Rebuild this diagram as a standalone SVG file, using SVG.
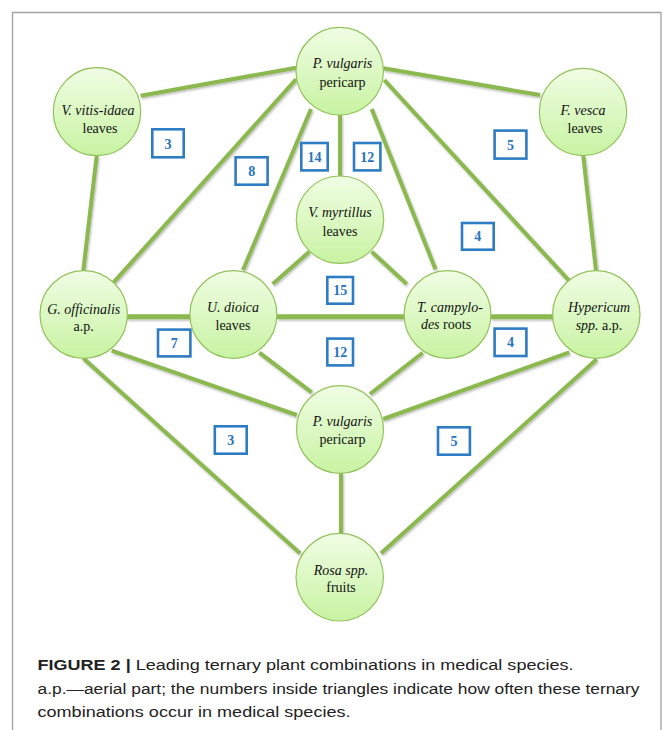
<svg xmlns="http://www.w3.org/2000/svg" width="663" height="730" viewBox="0 0 663 730">
<defs>
<linearGradient id="ng" x1="0" y1="0" x2="0" y2="1">
<stop offset="0" stop-color="#f0fde4"/>
<stop offset="1" stop-color="#c8f3a2"/>
</linearGradient>
<filter id="sh" x="-10%" y="-10%" width="120%" height="120%">
<feDropShadow dx="1" dy="1.5" stdDeviation="1" flood-color="#000" flood-opacity="0.28"/>
</filter>
</defs>
<style>
.node ellipse{fill:url(#ng);stroke:#93c25c;stroke-width:1.2}
.lbl{font-family:"Liberation Serif",serif;font-size:14px;fill:#111;text-anchor:middle}
.it{font-style:italic}
#edges line{stroke:#8bb84f;stroke-width:4;stroke-linecap:butt}
#edges line.h{stroke-width:5}
.box rect{fill:#fff;stroke:#2e7cc3;stroke-width:2.6}
.box text{font-family:"Liberation Serif",serif;font-size:14px;font-weight:bold;fill:#2874bd;text-anchor:middle}
.cap{font-family:"Liberation Sans",Arial,sans-serif;font-size:15.5px;fill:#222}
</style>
<path d="M12.5,730 V12.5 H661 V730" fill="none" stroke="#a3a3a3" stroke-width="1.3"/>
<g id="edges" filter="url(#sh)">
<line x1="296" y1="67.7" x2="140.7" y2="95.7"/>
<line x1="383.3" y1="68.3" x2="540" y2="95"/>
<line x1="296" y1="79.3" x2="113.3" y2="282.7"/>
<line x1="311" y1="109" x2="243" y2="270"/>
<line x1="340" y1="115" x2="340" y2="176"/>
<line x1="371.7" y1="109" x2="435.5" y2="269.3"/>
<line x1="384.3" y1="80" x2="570" y2="281.7"/>
<line x1="96.7" y1="155.7" x2="83.3" y2="270.5"/>
<line x1="583.3" y1="155.7" x2="596" y2="270.5"/>
<line x1="309.3" y1="251.7" x2="272.7" y2="284"/>
<line x1="371.7" y1="251.7" x2="406.7" y2="284"/>
<line class="h" x1="127" y1="316.7" x2="190" y2="316.7"/>
<line class="h" x1="277" y1="316.7" x2="404" y2="316.7"/>
<line class="h" x1="491" y1="316.7" x2="556" y2="316.7"/>
<line x1="111.7" y1="350.7" x2="296.7" y2="415"/>
<line x1="259.3" y1="352.7" x2="311.7" y2="392.3"/>
<line x1="422.7" y1="352.7" x2="370" y2="394"/>
<line x1="569.3" y1="352.3" x2="383.3" y2="419"/>
<line x1="83.3" y1="358.3" x2="300" y2="553.3"/>
<line x1="596.7" y1="359.3" x2="381" y2="553.3"/>
<line x1="341" y1="473" x2="341" y2="533.5"/>
</g>
<g id="n-vitis" class="node"><ellipse cx="97" cy="111.7" rx="43.7" ry="44"/>
<text class="lbl it" x="98" y="115">V. vitis-idaea</text><text class="lbl" x="100" y="133">leaves</text></g>
<g id="n-pv-top" class="node"><ellipse cx="339.7" cy="71.2" rx="43.7" ry="43.8"/>
<text class="lbl it" x="342.5" y="68">P. vulgaris</text><text class="lbl" x="342.5" y="87">pericarp</text></g>
<g id="n-vesca" class="node"><ellipse cx="583" cy="112" rx="43.7" ry="43.7"/>
<text class="lbl it" x="583" y="115">F. vesca</text><text class="lbl" x="585" y="132.7">leaves</text></g>
<g id="n-myrtillus" class="node"><ellipse cx="340" cy="219.7" rx="43.7" ry="43.7"/>
<text class="lbl it" x="340" y="217">V. myrtillus</text><text class="lbl" x="340" y="235.7">leaves</text></g>
<g id="n-gofficinalis" class="node"><ellipse cx="83.7" cy="314.5" rx="43.7" ry="43.8"/>
<text class="lbl it" x="83.7" y="314">G. officinalis</text><text class="lbl" x="83.7" y="331">a.p.</text></g>
<g id="n-udioica" class="node"><ellipse cx="233.4" cy="314.5" rx="43.5" ry="43.8"/>
<text class="lbl it" x="233" y="311.7">U. dioica</text><text class="lbl" x="233" y="330">leaves</text></g>
<g id="n-tcampylodes" class="node"><ellipse cx="447.5" cy="314.5" rx="43.4" ry="43.8"/>
<text class="lbl it" x="450" y="311.7">T. campylo-</text><text class="lbl" x="446" y="329.3"><tspan class="it">des</tspan> roots</text></g>
<g id="n-hypericum" class="node"><ellipse cx="596.3" cy="314.5" rx="43.7" ry="43.8"/>
<text class="lbl it" x="599" y="311.7">Hypericum</text><text class="lbl" x="599" y="330"><tspan class="it">spp.</tspan> a.p.</text></g>
<g id="n-pv-bottom" class="node"><ellipse cx="340" cy="429.5" rx="43.5" ry="43.8"/>
<text class="lbl it" x="342.5" y="426">P. vulgaris</text><text class="lbl" x="342.5" y="444">pericarp</text></g>
<g id="n-rosa" class="node"><ellipse cx="339.7" cy="577.2" rx="43.7" ry="43.8"/>
<text class="lbl it" x="341" y="575">Rosa spp.</text><text class="lbl" x="341" y="592.3">fruits</text></g>
<g id="counts">
<g class="box"><rect x="152.3" y="129.3" width="31.4" height="28"/><text x="168" y="148.5">3</text></g>
<g class="box"><rect x="235.6" y="157.3" width="32" height="27.4"/><text x="251.7" y="176">8</text></g>
<g class="box"><rect x="301.3" y="143" width="26.4" height="27.4"/><text x="314.5" y="161.7">14</text></g>
<g class="box"><rect x="354" y="143" width="26.4" height="27.4"/><text x="367.2" y="161.7">12</text></g>
<g class="box"><rect x="494.6" y="130.6" width="31.8" height="28"/><text x="510.5" y="149.7">5</text></g>
<g class="box"><rect x="462" y="223" width="31.7" height="26.7"/><text x="477.8" y="241.3">4</text></g>
<g class="box"><rect x="327.3" y="277" width="25.7" height="26.7"/><text x="340.2" y="295.3">15</text></g>
<g class="box"><rect x="327.3" y="338.6" width="25.7" height="26.8"/><text x="340.2" y="357">12</text></g>
<g class="box"><rect x="158" y="329.6" width="32.4" height="26.8"/><text x="174.2" y="348">7</text></g>
<g class="box"><rect x="494.6" y="328.6" width="31.8" height="27.4"/><text x="510.5" y="347.3">4</text></g>
<g class="box"><rect x="214.8" y="426.3" width="31.9" height="27.4"/><text x="230.7" y="445">3</text></g>
<g class="box"><rect x="438" y="427.3" width="31.9" height="27.4"/><text x="454" y="446">5</text></g>
</g>
<g id="caption" class="cap">
<text x="37.5" y="670" textLength="536" lengthAdjust="spacingAndGlyphs"><tspan font-weight="bold">FIGURE 2 |</tspan> Leading ternary plant combinations in medical species.</text>
<text x="37.5" y="694" textLength="602" lengthAdjust="spacingAndGlyphs">a.p.—aerial part; the numbers inside triangles indicate how often these ternary</text>
<text x="37.5" y="717" textLength="313" lengthAdjust="spacingAndGlyphs">combinations occur in medical species.</text>
</g>
</svg>
